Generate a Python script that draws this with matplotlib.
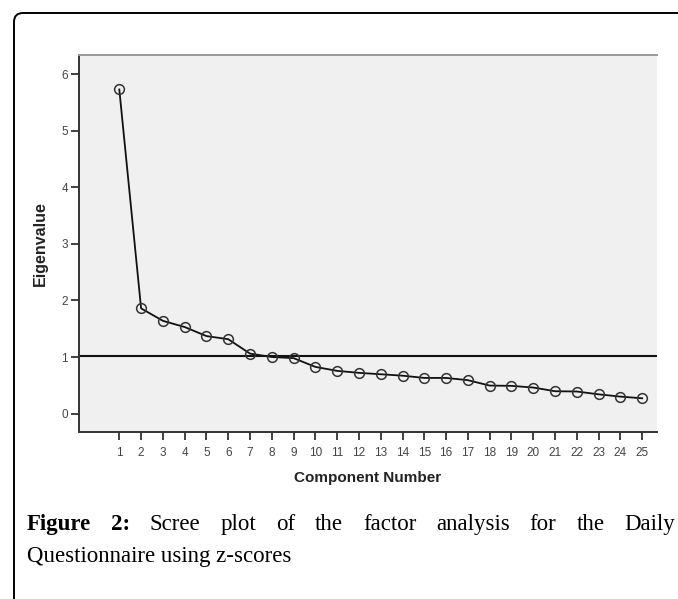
import matplotlib
matplotlib.use('Agg')
import matplotlib.pyplot as plt
import matplotlib.transforms as mtransforms
from matplotlib.patches import FancyBboxPatch

W, H = 678, 599

components = list(range(1, 26))
eigenvalues = [5.73, 1.86, 1.64, 1.53, 1.37, 1.315, 1.06, 1.00, 0.98, 0.825,
               0.755, 0.72, 0.695, 0.67, 0.63, 0.63, 0.59, 0.495, 0.49, 0.46,
               0.395, 0.39, 0.34, 0.30, 0.27]
cutoff = 1.02
y_ticks = [0, 1, 2, 3, 4, 5, 6]

caption_line1 = ["Figure", "2:", "Scree", "plot", "of", "the", "factor",
                 "analysis", "for", "the", "Daily"]
caption_bold = 2
caption_line2 = "Questionnaire using z-scores"

fig = plt.figure(figsize=(W / 100, H / 100), dpi=100)
ax = fig.add_axes([79 / W, 1 - 432 / H, 578 / W, 377 / H])
ax.set_facecolor('#f0f0f0')

ax.axhline(cutoff, color='#111111', lw=1.5, zorder=2)
ax.plot(components, eigenvalues, color='#111111', lw=1.3, marker='o',
        markersize=7, markerfacecolor='none', markeredgecolor='#333333',
        markeredgewidth=1.1, zorder=3)

ax.set_xlim(-0.85, 25.68)
ax.set_ylim(-0.326, 6.34)
ax.set_xticks(components)
ax.set_yticks(y_ticks)

for side in ['left', 'bottom']:
    ax.spines[side].set_color('#333333')
    ax.spines[side].set_linewidth(1.4)
ax.spines['top'].set_color('#999999')
ax.spines['top'].set_linewidth(1.4)
ax.spines['right'].set_visible(False)

ax.tick_params(axis='both', direction='out', length=6, width=1.3,
               color='#333333', labelcolor='#444444', labelsize=8.5)
ax.tick_params(axis='x', pad=5)
ax.tick_params(axis='y', pad=2)
for lab in ax.get_xticklabels() + ax.get_yticklabels():
    lab.set_family('Liberation Sans')

ax.set_xlabel('Component Number', fontsize=11, fontweight='bold',
              family='Liberation Sans', color='#222222')
ax.set_ylabel('Eigenvalue', fontsize=11.5, fontweight='bold',
              family='Liberation Sans', color='#222222')
ax.xaxis.set_label_coords(0.5, -0.103)
ax.yaxis.set_label_coords(-0.054, 0.5)

# frame round the figure, open to the right and bottom
px = mtransforms.IdentityTransform()
frame = FancyBboxPatch((14, -50), 800, H - 13 + 50,
                       boxstyle='round,pad=0,rounding_size=9',
                       transform=px, fill=False, ec='black', lw=1.4)
fig.add_artist(frame)

# justified caption, first line
fs = 16.5
left, right = 26.7, 675
base1 = H - 530
base2 = H - 562
renderer = fig.canvas.get_renderer()
words = []
for i, w in enumerate(caption_line1):
    t = fig.text(0, base1 / H, w, fontsize=fs, family='Liberation Serif',
                 fontweight='bold' if i < caption_bold else 'normal',
                 va='baseline', ha='left')
    words.append(t)
widths = [t.get_window_extent(renderer).width for t in words]
gap = (right - left - sum(widths)) / (len(words) - 1)
x = left
for t, wd in zip(words, widths):
    t.set_x(x / W)
    x += wd + gap

fig.text(left / W, base2 / H, caption_line2, fontsize=fs,
         family='Liberation Serif', va='baseline', ha='left')

fig.savefig('out.png', dpi=100)
